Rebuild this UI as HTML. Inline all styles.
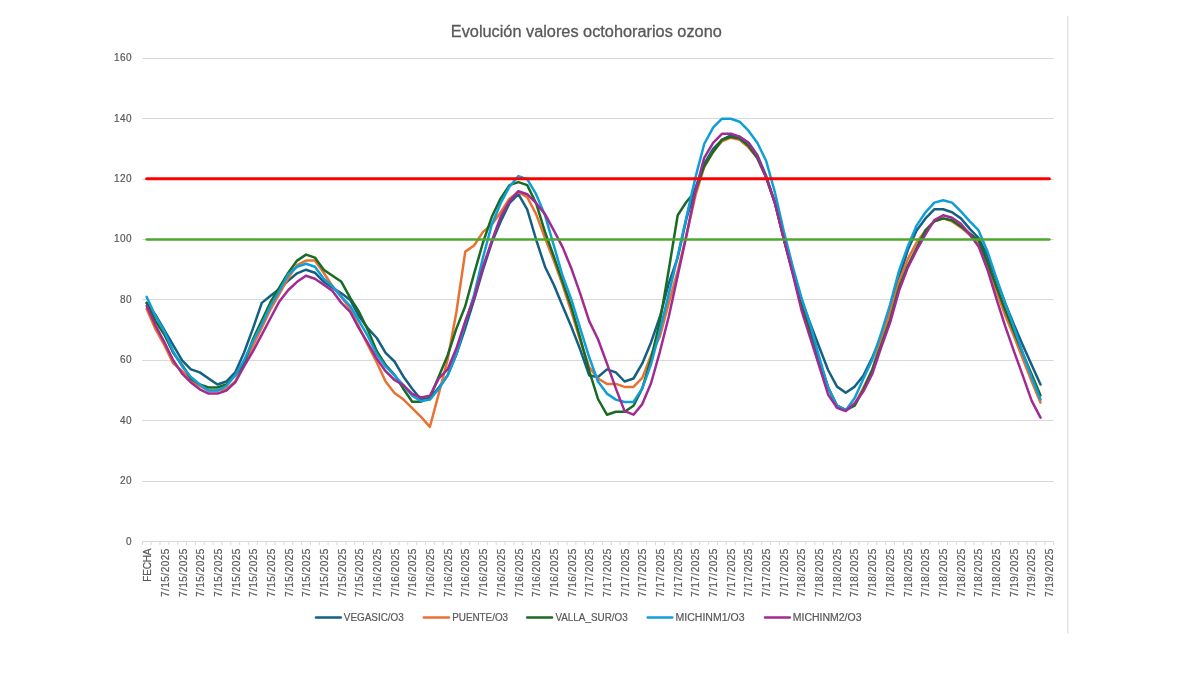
<!DOCTYPE html>
<html lang="es"><head><meta charset="utf-8"><title>Evolución valores octohorarios ozono</title>
<style>
html,body{margin:0;padding:0;background:#fff;}
body{width:1179px;height:685px;overflow:hidden;}
svg{display:block;}
text{font-family:"Liberation Sans",sans-serif;fill:#595959;}
.ax{font-size:10px;stroke:#595959;stroke-width:0.2px;}
.lg{font-size:10px;stroke:#595959;stroke-width:0.2px;}
.ttl{font-size:16px;stroke:#595959;stroke-width:0.3px;}
</style></head><body>
<svg width="1179" height="685" viewBox="0 0 1179 685">
<rect x="0" y="0" width="1179" height="685" fill="#ffffff"/>
<line x1="1067.8" y1="16" x2="1067.8" y2="633.5" stroke="#e1e1e1" stroke-width="1.3"/>
<text class="ttl" x="586.3" y="37" text-anchor="middle" textLength="271" lengthAdjust="spacingAndGlyphs">Evolución valores octohorarios ozono</text>
<line x1="142.3" y1="541.50" x2="1053.7" y2="541.50" stroke="#d9d9d9" stroke-width="1"/>
<text class="ax" x="125.9" y="544.50" style="letter-spacing:0.44px">0</text>
<line x1="142.3" y1="481.50" x2="1053.7" y2="481.50" stroke="#d9d9d9" stroke-width="1"/>
<text class="ax" x="119.9" y="484.08" style="letter-spacing:0.44px">20</text>
<line x1="142.3" y1="420.50" x2="1053.7" y2="420.50" stroke="#d9d9d9" stroke-width="1"/>
<text class="ax" x="119.9" y="423.66" style="letter-spacing:0.44px">40</text>
<line x1="142.3" y1="360.50" x2="1053.7" y2="360.50" stroke="#d9d9d9" stroke-width="1"/>
<text class="ax" x="119.9" y="363.24" style="letter-spacing:0.44px">60</text>
<line x1="142.3" y1="299.50" x2="1053.7" y2="299.50" stroke="#d9d9d9" stroke-width="1"/>
<text class="ax" x="119.9" y="302.82" style="letter-spacing:0.44px">80</text>
<line x1="142.3" y1="239.50" x2="1053.7" y2="239.50" stroke="#d9d9d9" stroke-width="1"/>
<text class="ax" x="113.9" y="242.40" style="letter-spacing:0.44px">100</text>
<line x1="142.3" y1="179.50" x2="1053.7" y2="179.50" stroke="#d9d9d9" stroke-width="1"/>
<text class="ax" x="113.9" y="181.98" style="letter-spacing:0.44px">120</text>
<line x1="142.3" y1="118.50" x2="1053.7" y2="118.50" stroke="#d9d9d9" stroke-width="1"/>
<text class="ax" x="113.9" y="121.56" style="letter-spacing:0.44px">140</text>
<line x1="142.3" y1="58.50" x2="1053.7" y2="58.50" stroke="#d9d9d9" stroke-width="1"/>
<text class="ax" x="113.9" y="61.14" style="letter-spacing:0.44px">160</text>
<path d="M142.30 541.60V545.20M151.15 541.60V545.20M160.00 541.60V545.20M168.85 541.60V545.20M177.69 541.60V545.20M186.54 541.60V545.20M195.39 541.60V545.20M204.24 541.60V545.20M213.09 541.60V545.20M221.94 541.60V545.20M230.79 541.60V545.20M239.63 541.60V545.20M248.48 541.60V545.20M257.33 541.60V545.20M266.18 541.60V545.20M275.03 541.60V545.20M283.88 541.60V545.20M292.73 541.60V545.20M301.57 541.60V545.20M310.42 541.60V545.20M319.27 541.60V545.20M328.12 541.60V545.20M336.97 541.60V545.20M345.82 541.60V545.20M354.67 541.60V545.20M363.51 541.60V545.20M372.36 541.60V545.20M381.21 541.60V545.20M390.06 541.60V545.20M398.91 541.60V545.20M407.76 541.60V545.20M416.60 541.60V545.20M425.45 541.60V545.20M434.30 541.60V545.20M443.15 541.60V545.20M452.00 541.60V545.20M460.85 541.60V545.20M469.70 541.60V545.20M478.54 541.60V545.20M487.39 541.60V545.20M496.24 541.60V545.20M505.09 541.60V545.20M513.94 541.60V545.20M522.79 541.60V545.20M531.64 541.60V545.20M540.48 541.60V545.20M549.33 541.60V545.20M558.18 541.60V545.20M567.03 541.60V545.20M575.88 541.60V545.20M584.73 541.60V545.20M593.58 541.60V545.20M602.42 541.60V545.20M611.27 541.60V545.20M620.12 541.60V545.20M628.97 541.60V545.20M637.82 541.60V545.20M646.67 541.60V545.20M655.52 541.60V545.20M664.36 541.60V545.20M673.21 541.60V545.20M682.06 541.60V545.20M690.91 541.60V545.20M699.76 541.60V545.20M708.61 541.60V545.20M717.46 541.60V545.20M726.30 541.60V545.20M735.15 541.60V545.20M744.00 541.60V545.20M752.85 541.60V545.20M761.70 541.60V545.20M770.55 541.60V545.20M779.40 541.60V545.20M788.24 541.60V545.20M797.09 541.60V545.20M805.94 541.60V545.20M814.79 541.60V545.20M823.64 541.60V545.20M832.49 541.60V545.20M841.33 541.60V545.20M850.18 541.60V545.20M859.03 541.60V545.20M867.88 541.60V545.20M876.73 541.60V545.20M885.58 541.60V545.20M894.43 541.60V545.20M903.27 541.60V545.20M912.12 541.60V545.20M920.97 541.60V545.20M929.82 541.60V545.20M938.67 541.60V545.20M947.52 541.60V545.20M956.37 541.60V545.20M965.21 541.60V545.20M974.06 541.60V545.20M982.91 541.60V545.20M991.76 541.60V545.20M1000.61 541.60V545.20M1009.46 541.60V545.20M1018.31 541.60V545.20M1027.15 541.60V545.20M1036.00 541.60V545.20M1044.85 541.60V545.20M1053.70 541.60V545.20" stroke="#d9d9d9" stroke-width="1" fill="none"/>
<text class="ax" transform="translate(151.20 548.60) rotate(-90)" x="-33.1" y="0" textLength="33.1" lengthAdjust="spacing">FECHA</text>
<text class="ax" transform="translate(168.88 548.60) rotate(-90)" x="-48.5" y="0" textLength="48.5" lengthAdjust="spacing">7/15/2025</text>
<text class="ax" transform="translate(186.56 548.60) rotate(-90)" x="-48.5" y="0" textLength="48.5" lengthAdjust="spacing">7/15/2025</text>
<text class="ax" transform="translate(204.25 548.60) rotate(-90)" x="-48.5" y="0" textLength="48.5" lengthAdjust="spacing">7/15/2025</text>
<text class="ax" transform="translate(221.93 548.60) rotate(-90)" x="-48.5" y="0" textLength="48.5" lengthAdjust="spacing">7/15/2025</text>
<text class="ax" transform="translate(239.61 548.60) rotate(-90)" x="-48.5" y="0" textLength="48.5" lengthAdjust="spacing">7/15/2025</text>
<text class="ax" transform="translate(257.29 548.60) rotate(-90)" x="-48.5" y="0" textLength="48.5" lengthAdjust="spacing">7/15/2025</text>
<text class="ax" transform="translate(274.97 548.60) rotate(-90)" x="-48.5" y="0" textLength="48.5" lengthAdjust="spacing">7/15/2025</text>
<text class="ax" transform="translate(292.66 548.60) rotate(-90)" x="-48.5" y="0" textLength="48.5" lengthAdjust="spacing">7/15/2025</text>
<text class="ax" transform="translate(310.34 548.60) rotate(-90)" x="-48.5" y="0" textLength="48.5" lengthAdjust="spacing">7/15/2025</text>
<text class="ax" transform="translate(328.02 548.60) rotate(-90)" x="-48.5" y="0" textLength="48.5" lengthAdjust="spacing">7/15/2025</text>
<text class="ax" transform="translate(345.70 548.60) rotate(-90)" x="-48.5" y="0" textLength="48.5" lengthAdjust="spacing">7/15/2025</text>
<text class="ax" transform="translate(363.38 548.60) rotate(-90)" x="-48.5" y="0" textLength="48.5" lengthAdjust="spacing">7/15/2025</text>
<text class="ax" transform="translate(381.07 548.60) rotate(-90)" x="-48.5" y="0" textLength="48.5" lengthAdjust="spacing">7/16/2025</text>
<text class="ax" transform="translate(398.75 548.60) rotate(-90)" x="-48.5" y="0" textLength="48.5" lengthAdjust="spacing">7/16/2025</text>
<text class="ax" transform="translate(416.43 548.60) rotate(-90)" x="-48.5" y="0" textLength="48.5" lengthAdjust="spacing">7/16/2025</text>
<text class="ax" transform="translate(434.11 548.60) rotate(-90)" x="-48.5" y="0" textLength="48.5" lengthAdjust="spacing">7/16/2025</text>
<text class="ax" transform="translate(451.79 548.60) rotate(-90)" x="-48.5" y="0" textLength="48.5" lengthAdjust="spacing">7/16/2025</text>
<text class="ax" transform="translate(469.48 548.60) rotate(-90)" x="-48.5" y="0" textLength="48.5" lengthAdjust="spacing">7/16/2025</text>
<text class="ax" transform="translate(487.16 548.60) rotate(-90)" x="-48.5" y="0" textLength="48.5" lengthAdjust="spacing">7/16/2025</text>
<text class="ax" transform="translate(504.84 548.60) rotate(-90)" x="-48.5" y="0" textLength="48.5" lengthAdjust="spacing">7/16/2025</text>
<text class="ax" transform="translate(522.52 548.60) rotate(-90)" x="-48.5" y="0" textLength="48.5" lengthAdjust="spacing">7/16/2025</text>
<text class="ax" transform="translate(540.20 548.60) rotate(-90)" x="-48.5" y="0" textLength="48.5" lengthAdjust="spacing">7/16/2025</text>
<text class="ax" transform="translate(557.89 548.60) rotate(-90)" x="-48.5" y="0" textLength="48.5" lengthAdjust="spacing">7/16/2025</text>
<text class="ax" transform="translate(575.57 548.60) rotate(-90)" x="-48.5" y="0" textLength="48.5" lengthAdjust="spacing">7/16/2025</text>
<text class="ax" transform="translate(593.25 548.60) rotate(-90)" x="-48.5" y="0" textLength="48.5" lengthAdjust="spacing">7/17/2025</text>
<text class="ax" transform="translate(610.93 548.60) rotate(-90)" x="-48.5" y="0" textLength="48.5" lengthAdjust="spacing">7/17/2025</text>
<text class="ax" transform="translate(628.61 548.60) rotate(-90)" x="-48.5" y="0" textLength="48.5" lengthAdjust="spacing">7/17/2025</text>
<text class="ax" transform="translate(646.30 548.60) rotate(-90)" x="-48.5" y="0" textLength="48.5" lengthAdjust="spacing">7/17/2025</text>
<text class="ax" transform="translate(663.98 548.60) rotate(-90)" x="-48.5" y="0" textLength="48.5" lengthAdjust="spacing">7/17/2025</text>
<text class="ax" transform="translate(681.66 548.60) rotate(-90)" x="-48.5" y="0" textLength="48.5" lengthAdjust="spacing">7/17/2025</text>
<text class="ax" transform="translate(699.34 548.60) rotate(-90)" x="-48.5" y="0" textLength="48.5" lengthAdjust="spacing">7/17/2025</text>
<text class="ax" transform="translate(717.02 548.60) rotate(-90)" x="-48.5" y="0" textLength="48.5" lengthAdjust="spacing">7/17/2025</text>
<text class="ax" transform="translate(734.71 548.60) rotate(-90)" x="-48.5" y="0" textLength="48.5" lengthAdjust="spacing">7/17/2025</text>
<text class="ax" transform="translate(752.39 548.60) rotate(-90)" x="-48.5" y="0" textLength="48.5" lengthAdjust="spacing">7/17/2025</text>
<text class="ax" transform="translate(770.07 548.60) rotate(-90)" x="-48.5" y="0" textLength="48.5" lengthAdjust="spacing">7/17/2025</text>
<text class="ax" transform="translate(787.75 548.60) rotate(-90)" x="-48.5" y="0" textLength="48.5" lengthAdjust="spacing">7/17/2025</text>
<text class="ax" transform="translate(805.43 548.60) rotate(-90)" x="-48.5" y="0" textLength="48.5" lengthAdjust="spacing">7/18/2025</text>
<text class="ax" transform="translate(823.12 548.60) rotate(-90)" x="-48.5" y="0" textLength="48.5" lengthAdjust="spacing">7/18/2025</text>
<text class="ax" transform="translate(840.80 548.60) rotate(-90)" x="-48.5" y="0" textLength="48.5" lengthAdjust="spacing">7/18/2025</text>
<text class="ax" transform="translate(858.48 548.60) rotate(-90)" x="-48.5" y="0" textLength="48.5" lengthAdjust="spacing">7/18/2025</text>
<text class="ax" transform="translate(876.16 548.60) rotate(-90)" x="-48.5" y="0" textLength="48.5" lengthAdjust="spacing">7/18/2025</text>
<text class="ax" transform="translate(893.84 548.60) rotate(-90)" x="-48.5" y="0" textLength="48.5" lengthAdjust="spacing">7/18/2025</text>
<text class="ax" transform="translate(911.53 548.60) rotate(-90)" x="-48.5" y="0" textLength="48.5" lengthAdjust="spacing">7/18/2025</text>
<text class="ax" transform="translate(929.21 548.60) rotate(-90)" x="-48.5" y="0" textLength="48.5" lengthAdjust="spacing">7/18/2025</text>
<text class="ax" transform="translate(946.89 548.60) rotate(-90)" x="-48.5" y="0" textLength="48.5" lengthAdjust="spacing">7/18/2025</text>
<text class="ax" transform="translate(964.57 548.60) rotate(-90)" x="-48.5" y="0" textLength="48.5" lengthAdjust="spacing">7/18/2025</text>
<text class="ax" transform="translate(982.25 548.60) rotate(-90)" x="-48.5" y="0" textLength="48.5" lengthAdjust="spacing">7/18/2025</text>
<text class="ax" transform="translate(999.94 548.60) rotate(-90)" x="-48.5" y="0" textLength="48.5" lengthAdjust="spacing">7/18/2025</text>
<text class="ax" transform="translate(1017.62 548.60) rotate(-90)" x="-48.5" y="0" textLength="48.5" lengthAdjust="spacing">7/19/2025</text>
<text class="ax" transform="translate(1035.30 548.60) rotate(-90)" x="-48.5" y="0" textLength="48.5" lengthAdjust="spacing">7/19/2025</text>
<text class="ax" transform="translate(1052.98 548.60) rotate(-90)" x="-48.5" y="0" textLength="48.5" lengthAdjust="spacing">7/19/2025</text>
<polyline points="146.7,302.9 155.5,315.0 164.4,330.1 173.2,345.2 182.1,360.3 190.9,369.4 199.8,372.4 208.6,378.5 217.5,384.5 226.3,381.5 235.2,372.4 244.0,352.8 252.9,328.6 261.8,302.9 270.6,295.7 279.4,289.0 288.3,280.6 297.1,273.3 306.0,269.7 314.9,272.7 323.7,281.8 332.5,287.8 341.4,293.3 350.2,299.9 359.1,316.5 367.9,328.3 376.8,338.0 385.6,352.8 394.5,361.5 403.3,376.4 412.2,388.7 421.0,399.6 429.9,398.4 438.8,387.5 447.6,375.4 456.4,354.3 465.3,328.0 474.1,299.9 483.0,269.7 491.8,242.5 500.7,221.4 509.5,203.2 518.4,194.2 527.2,209.3 536.1,239.5 545.0,266.7 553.8,284.8 562.6,306.0 571.5,327.1 580.3,349.8 589.2,375.4 598.0,377.0 606.9,369.4 615.8,372.4 624.6,381.5 633.5,378.5 642.3,363.4 651.1,342.2 660.0,316.5 668.8,283.3 677.7,257.6 686.5,218.4 695.4,188.1 704.2,164.0 713.1,148.9 722.0,139.8 730.8,135.3 739.6,136.8 748.5,142.8 757.3,154.9 766.2,176.1 775.0,203.2 783.9,236.5 792.8,269.7 801.6,299.9 810.5,324.1 819.3,347.3 828.1,370.0 837.0,386.6 845.8,392.7 854.7,386.6 863.5,375.4 872.4,357.3 881.2,336.2 890.1,309.0 899.0,278.8 907.8,250.1 916.6,230.4 925.5,218.4 934.3,209.3 943.2,209.3 952.0,212.3 960.9,218.4 969.8,228.9 978.6,238.0 987.5,256.1 996.3,279.4 1005.1,302.9 1014.0,324.7 1022.8,345.2 1031.7,364.9 1040.5,384.5" fill="none" stroke="#156082" stroke-width="2.5" stroke-linejoin="round" stroke-linecap="round"/>
<polyline points="146.7,309.0 155.5,329.2 164.4,345.2 173.2,363.4 182.1,370.9 190.9,380.0 199.8,386.0 208.6,390.6 217.5,390.6 226.3,389.0 235.2,381.5 244.0,364.9 252.9,345.8 261.8,327.7 270.6,309.0 279.4,293.9 288.3,277.9 297.1,265.2 306.0,260.6 314.9,260.6 323.7,272.7 332.5,286.3 341.4,296.9 350.2,309.0 359.1,327.1 367.9,345.2 376.8,362.5 385.6,381.5 394.5,393.0 403.3,399.3 412.2,408.1 421.0,416.8 429.9,426.8 438.8,393.6 447.6,359.7 456.4,312.0 465.3,251.6 474.1,245.5 483.0,231.9 491.8,224.4 500.7,212.3 509.5,198.7 518.4,192.1 527.2,197.2 536.1,214.1 545.0,238.0 553.8,260.6 562.6,284.8 571.5,312.0 580.3,340.7 589.2,367.3 598.0,378.5 606.9,383.9 615.8,383.9 624.6,386.9 633.5,386.9 642.3,377.9 651.1,355.2 660.0,336.2 668.8,302.9 677.7,271.2 686.5,235.0 695.4,195.7 704.2,167.0 713.1,151.9 722.0,141.3 730.8,137.7 739.6,139.8 748.5,147.4 757.3,157.9 766.2,177.6 775.0,203.2 783.9,239.5 792.8,272.7 801.6,306.0 810.5,333.2 819.3,360.3 828.1,387.5 837.0,405.7 845.8,410.2 854.7,404.1 863.5,387.5 872.4,369.4 881.2,339.2 890.1,312.0 899.0,281.8 907.8,259.1 916.6,242.5 925.5,230.4 934.3,221.4 943.2,218.4 952.0,221.4 960.9,227.4 969.8,235.0 978.6,244.6 987.5,266.7 996.3,290.9 1005.1,315.0 1014.0,336.2 1022.8,358.8 1031.7,381.5 1040.5,402.6" fill="none" stroke="#e97132" stroke-width="2.5" stroke-linejoin="round" stroke-linecap="round"/>
<polyline points="146.7,302.9 155.5,321.1 164.4,334.7 173.2,352.8 182.1,364.9 190.9,378.5 199.8,384.5 208.6,387.5 217.5,387.5 226.3,384.5 235.2,375.4 244.0,363.4 252.9,339.2 261.8,320.5 270.6,302.0 279.4,287.5 288.3,272.7 297.1,260.6 306.0,254.6 314.9,257.6 323.7,269.7 332.5,275.8 341.4,281.8 350.2,297.8 359.1,312.0 367.9,330.1 376.8,351.3 385.6,364.9 394.5,374.8 403.3,388.7 412.2,401.7 421.0,401.7 429.9,397.5 438.8,376.4 447.6,355.5 456.4,328.6 465.3,306.0 474.1,273.6 483.0,242.5 491.8,216.8 500.7,198.4 509.5,185.1 518.4,182.1 527.2,185.1 536.1,203.2 545.0,231.9 553.8,256.4 562.6,281.8 571.5,307.5 580.3,338.3 589.2,370.9 598.0,399.0 606.9,414.7 615.8,411.7 624.6,411.7 633.5,405.7 642.3,388.4 651.1,358.5 660.0,321.1 668.8,269.7 677.7,215.3 686.5,201.7 695.4,191.2 704.2,166.1 713.1,151.9 722.0,139.8 730.8,136.8 739.6,138.6 748.5,145.8 757.3,157.9 766.2,177.6 775.0,203.2 783.9,239.5 792.8,272.7 801.6,304.5 810.5,331.6 819.3,360.3 828.1,387.5 837.0,405.7 845.8,410.2 854.7,405.7 863.5,389.3 872.4,369.4 881.2,345.2 890.1,319.6 899.0,287.8 907.8,265.8 916.6,248.0 925.5,230.4 934.3,221.4 943.2,218.4 952.0,220.2 960.9,226.5 969.8,233.5 978.6,240.4 987.5,262.2 996.3,286.3 1005.1,309.9 1014.0,331.6 1022.8,353.4 1031.7,374.5 1040.5,395.4" fill="none" stroke="#196b24" stroke-width="2.5" stroke-linejoin="round" stroke-linecap="round"/>
<polyline points="146.7,296.9 155.5,316.2 164.4,331.6 173.2,351.3 182.1,366.4 190.9,377.0 199.8,384.5 208.6,390.6 217.5,390.6 226.3,386.0 235.2,375.4 244.0,360.3 252.9,341.3 261.8,324.1 270.6,305.4 279.4,290.9 288.3,274.2 297.1,266.7 306.0,263.7 314.9,266.7 323.7,278.8 332.5,286.3 341.4,296.9 350.2,306.0 359.1,321.1 367.9,336.2 376.8,354.3 385.6,366.4 394.5,375.4 403.3,385.1 412.2,395.7 421.0,401.1 429.9,399.6 438.8,388.7 447.6,375.4 456.4,354.3 465.3,322.6 474.1,294.8 483.0,257.6 491.8,224.4 500.7,203.2 509.5,186.6 518.4,176.1 527.2,179.1 536.1,194.2 545.0,215.3 553.8,245.5 562.6,275.8 571.5,299.9 580.3,328.6 589.2,357.3 598.0,381.5 606.9,393.6 615.8,399.6 624.6,402.0 633.5,402.0 642.3,388.4 651.1,364.0 660.0,330.1 668.8,293.9 677.7,256.1 686.5,216.8 695.4,177.6 704.2,144.0 713.1,127.7 722.0,118.7 730.8,118.7 739.6,121.7 748.5,130.7 757.3,142.8 766.2,161.0 775.0,192.7 783.9,231.9 792.8,266.7 801.6,298.4 810.5,325.6 819.3,357.3 828.1,387.5 837.0,405.7 845.8,410.2 854.7,398.1 863.5,378.5 872.4,359.4 881.2,333.2 890.1,304.5 899.0,270.9 907.8,246.4 916.6,225.6 925.5,212.3 934.3,202.6 943.2,200.2 952.0,202.6 960.9,211.4 969.8,221.4 978.6,230.4 987.5,251.6 996.3,277.9 1005.1,302.9 1014.0,327.7 1022.8,352.8 1031.7,377.6 1040.5,399.6" fill="none" stroke="#0f9ed5" stroke-width="2.5" stroke-linejoin="round" stroke-linecap="round"/>
<polyline points="146.7,306.0 155.5,325.6 164.4,342.2 173.2,360.3 182.1,373.6 190.9,382.4 199.8,389.3 208.6,393.6 217.5,393.6 226.3,390.6 235.2,382.4 244.0,366.4 252.9,351.3 261.8,334.7 270.6,318.0 279.4,301.4 288.3,290.0 297.1,281.8 306.0,275.8 314.9,278.8 323.7,284.8 332.5,290.9 341.4,302.9 350.2,312.0 359.1,328.6 367.9,343.1 376.8,358.8 385.6,371.2 394.5,380.0 403.3,385.1 412.2,393.9 421.0,397.5 429.9,395.7 438.8,378.5 447.6,369.4 456.4,348.3 465.3,321.1 474.1,298.1 483.0,266.7 491.8,241.0 500.7,216.8 509.5,201.1 518.4,191.2 527.2,194.2 536.1,203.2 545.0,214.1 553.8,230.4 562.6,247.1 571.5,268.8 580.3,293.9 589.2,321.1 598.0,339.2 606.9,363.4 615.8,388.4 624.6,411.1 633.5,414.7 642.3,404.1 651.1,383.0 660.0,351.3 668.8,316.5 677.7,275.8 686.5,235.3 695.4,191.2 704.2,157.9 713.1,142.8 722.0,133.8 730.8,133.8 739.6,136.8 748.5,142.8 757.3,155.8 766.2,177.6 775.0,203.2 783.9,239.5 792.8,274.2 801.6,310.5 810.5,338.6 819.3,366.4 828.1,394.5 837.0,407.8 845.8,411.1 854.7,403.2 863.5,391.2 872.4,373.6 881.2,347.3 890.1,322.6 899.0,290.9 907.8,267.6 916.6,250.1 925.5,234.4 934.3,220.2 943.2,215.3 952.0,217.7 960.9,223.8 969.8,234.4 978.6,246.4 987.5,269.7 996.3,298.4 1005.1,325.9 1014.0,351.3 1022.8,375.7 1031.7,400.8 1040.5,417.7" fill="none" stroke="#a02b93" stroke-width="2.5" stroke-linejoin="round" stroke-linecap="round"/>
<line x1="146.7" y1="178.80" x2="1049.4" y2="178.80" stroke="#ff0000" stroke-width="3.1" stroke-linecap="round"/>
<line x1="146.7" y1="239.50" x2="1049.4" y2="239.50" stroke="#4ea72e" stroke-width="2.6" stroke-linecap="round"/>
<line x1="316.0" y1="617.6" x2="340.8" y2="617.6" stroke="#156082" stroke-width="2.5" stroke-linecap="round"/>
<text class="lg" x="343.8" y="621.3" textLength="60.0" lengthAdjust="spacingAndGlyphs">VEGASIC/O3</text>
<line x1="423.8" y1="617.6" x2="448.9" y2="617.6" stroke="#e97132" stroke-width="2.5" stroke-linecap="round"/>
<text class="lg" x="452.2" y="621.3" textLength="55.9" lengthAdjust="spacingAndGlyphs">PUENTE/O3</text>
<line x1="527.2" y1="617.6" x2="552.0" y2="617.6" stroke="#196b24" stroke-width="2.5" stroke-linecap="round"/>
<text class="lg" x="555.4" y="621.3" textLength="72.3" lengthAdjust="spacingAndGlyphs">VALLA_SUR/O3</text>
<line x1="647.7" y1="617.6" x2="672.3" y2="617.6" stroke="#0f9ed5" stroke-width="2.5" stroke-linecap="round"/>
<text class="lg" x="675.6" y="621.3" textLength="68.9" lengthAdjust="spacingAndGlyphs">MICHINM1/O3</text>
<line x1="765.0" y1="617.6" x2="789.8" y2="617.6" stroke="#a02b93" stroke-width="2.5" stroke-linecap="round"/>
<text class="lg" x="792.8" y="621.3" textLength="68.7" lengthAdjust="spacingAndGlyphs">MICHINM2/O3</text>
</svg></body></html>
